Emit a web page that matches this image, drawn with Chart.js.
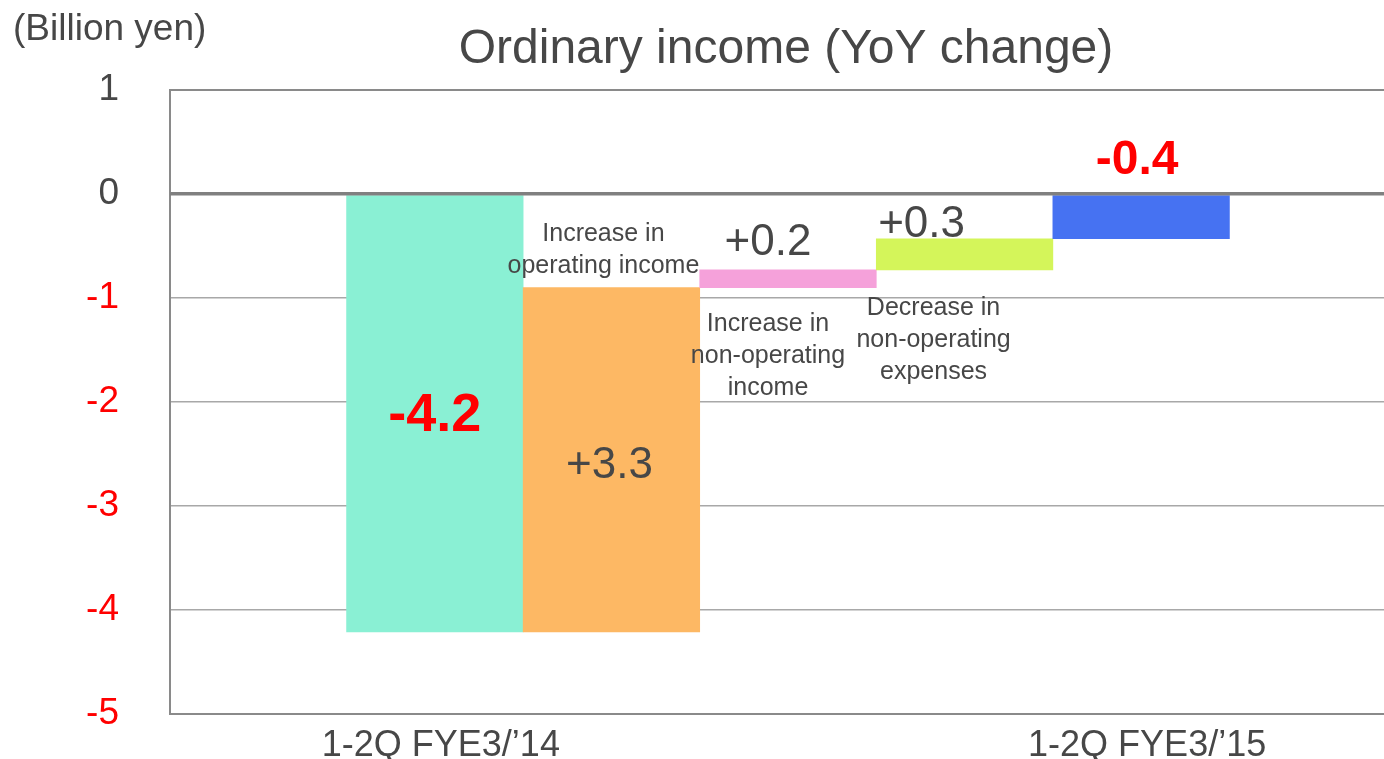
<!DOCTYPE html>
<html>
<head>
<meta charset="utf-8">
<script src="https://cdn.jsdelivr.net/npm/chart.js@4.4.1/dist/chart.umd.min.js"></script>
<style>
  html, body { margin: 0; padding: 0; background: #ffffff; overflow: hidden; width: 1384px; height: 759px; }
  #wrap { position: relative; width: 1406px; height: 759px; }
</style>
</head>
<body>
<div id="wrap"><canvas id="c" width="1406" height="759"></canvas></div>
<script>
// ---- data ----
const categories = ['', "1-2Q FYE3/\u201914", '', '', '', "1-2Q FYE3/\u201915", ''];
const barStarts  = [null, 0,     -4.21, -0.9,  -0.73, 0];
const barEnds    = [null, -4.21, -0.9,  -0.73, -0.43, -0.43];
const barColors  = ['rgba(0,0,0,0)', '#8AF0D4', '#FDB864', '#F5A1DA', '#D4F55A', '#4672F2'];
const valueLabels = ['', '-4.2', '+3.3', '+0.2', '+0.3', '-0.4'];
const stepLabels  = [[], [], ['Increase in', 'operating income'], ['Increase in', 'non-operating', 'income'], ['Decrease in', 'non-operating', 'expenses'], []];
const yTicks = [1, 0, -1, -2, -3, -4, -5];
const titleText = 'Ordinary income (YoY change)';
const unitText = '(Billion yen)';

const FONT = "'Liberation Sans', Arial, Helvetica, sans-serif";
const GRAY = '#474747';

const barData = categories.map((c, i) => (barStarts[i] === null || barStarts[i] === undefined) ? null : [barStarts[i], barEnds[i]]);

// annotation placement (styles / offsets only)
const valueStyle = {
  1: { dx: 0,   dy: -2.14, color: '#FF0000', font: 'bold 54px ' + FONT },
  2: { dx: -2,  dy: -2.61, color: GRAY, font: '44px ' + FONT },
  3: { dx: -20, dy: -0.47, color: GRAY, font: '44px ' + FONT },
  4: { dx: -43, dy: -0.30, color: GRAY, font: '44px ' + FONT },
  5: { dx: -4,  dy: 0.32,  color: '#FF0000', font: 'bold 48px ' + FONT }
};
const stepStyle = {
  2: { dx: -8,  dy: -0.385 },
  3: { dx: -20, dy: -1.255 },
  4: { dx: -31, dy: -1.097 }
};

const overlay = {
  id: 'overlay',
  afterDatasetsDraw(chart) {
    const ctx = chart.ctx;
    const xs = chart.scales.x, ys = chart.scales.y;
    const area = chart.chartArea;
    // zero line over bars
    ctx.save();
    ctx.strokeStyle = '#808080';
    ctx.lineWidth = 3;
    const y0 = ys.getPixelForValue(0);
    ctx.beginPath();
    ctx.moveTo(area.left, y0);
    ctx.lineTo(area.right, y0);
    ctx.stroke();

    ctx.textAlign = 'center';
    ctx.textBaseline = 'middle';
    // value labels
    valueLabels.forEach((t, i) => {
      if (!t) return;
      const s = valueStyle[i];
      ctx.font = s.font;
      ctx.fillStyle = s.color;
      ctx.fillText(t, xs.getPixelForValue(i) + s.dx, ys.getPixelForValue(s.dy));
    });
    // step descriptions
    ctx.font = '25px ' + FONT;
    ctx.fillStyle = GRAY;
    stepLabels.forEach((lines, i) => {
      if (!lines.length) return;
      const s = stepStyle[i];
      const x = xs.getPixelForValue(i) + s.dx;
      const yTop = ys.getPixelForValue(s.dy);
      lines.forEach((ln, k) => ctx.fillText(ln, x, yTop + k * 32));
    });

    // title & unit
    ctx.font = '48px ' + FONT;
    ctx.fillStyle = GRAY;
    ctx.fillText(titleText, 786, 50);
    ctx.font = '37px ' + FONT;
    ctx.textAlign = 'left';
    ctx.fillText(unitText, 13, 30);
    ctx.restore();
  }
};

new Chart(document.getElementById('c'), {
  type: 'bar',
  data: {
    labels: categories,
    datasets: [{
      data: barData,
      backgroundColor: barColors,
      borderWidth: 0,
      barPercentage: 1.0,
      categoryPercentage: 1.0
    }]
  },
  options: {
    responsive: false,
    animation: false,
    devicePixelRatio: 1,
    layout: { padding: { top: 90, left: 0, right: 0, bottom: 0 } },
    plugins: { legend: { display: false }, tooltip: { enabled: false }, title: { display: false } },
    scales: {
      x: {
        grid: { display: false, drawTicks: false },
        border: { display: true, color: '#8a8a8a', width: 2 },
        ticks: {
          color: GRAY,
          font: { family: FONT, size: 36 },
          padding: 10,
          labelOffset: 6,
          maxRotation: 0,
          autoSkip: false
        },
        afterFit(scale) { scale.height = 45; scale.paddingLeft = 0; scale.paddingRight = 0; }
      },
      y: {
        min: -5,
        max: 1,
        afterBuildTicks(scale) { scale.ticks = yTicks.map(v => ({ value: v })); },
        grid: {
          drawTicks: false,
          color(ctx) {
            const v = ctx.tick && ctx.tick.value;
            if (v === 0) return '#808080';
            if (v === 1 || v === -5) return '#8a8a8a';
            return '#a8a8a8';
          },
          lineWidth(ctx) {
            const v = ctx.tick && ctx.tick.value;
            if (v === 0) return 3;
            if (v === 1 || v === -5) return 2;
            return 1.5;
          }
        },
        border: { display: true, color: '#8a8a8a', width: 2 },
        ticks: {
          padding: 51,
          font: { family: FONT, size: 37 },
          color(ctx) { return ctx.tick.value < 0 ? '#FF0000' : GRAY; },
          callback(v) { return String(v); }
        },
        afterFit(scale) { scale.width = 170; scale.paddingTop = 0; scale.paddingBottom = 0; }
      }
    }
  },
  plugins: [overlay]
});
</script>
</body>
</html>
